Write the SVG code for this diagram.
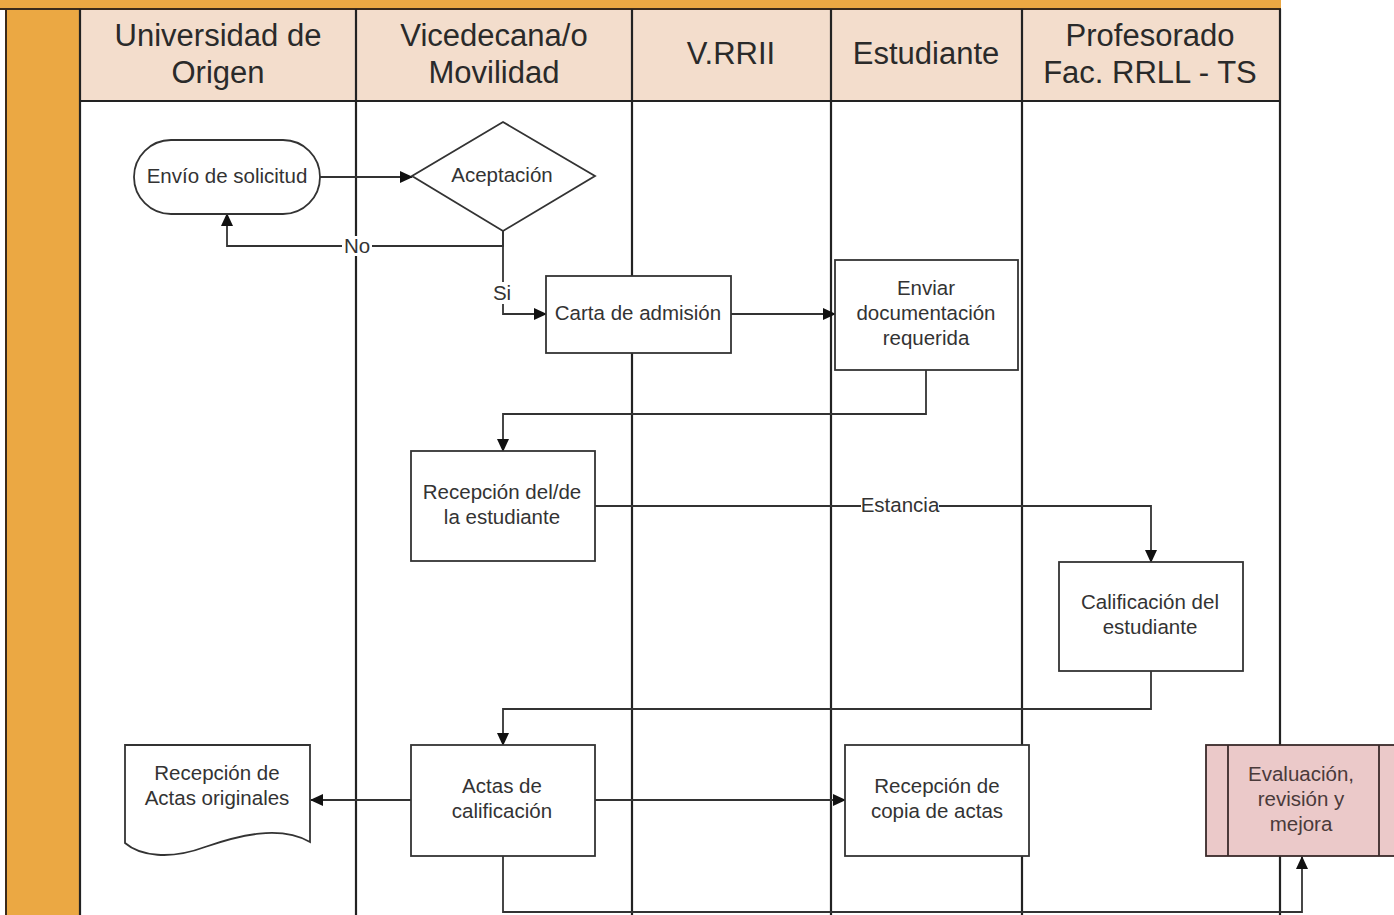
<svg xmlns="http://www.w3.org/2000/svg" width="1394" height="915" viewBox="0 0 1394 915">
<defs>
<marker id="ah" markerWidth="13" markerHeight="12" refX="12" refY="6" orient="auto" markerUnits="userSpaceOnUse">
<path d="M0,0 L13,6 L0,12 Z" fill="#111"/>
</marker>
<style>
.lane{stroke:#222;stroke-width:2.2;fill:none}
.hdr{font-family:"Liberation Sans",Arial,sans-serif;font-size:31px;fill:#2a2a2a;text-anchor:middle}
.box{fill:#fff;stroke:#333;stroke-width:1.8}
.txt{font-family:"Liberation Sans",Arial,sans-serif;font-size:20.5px;fill:#333;text-anchor:middle}
.con{stroke:#333;stroke-width:1.8;fill:none}
.lbl{font-family:"Liberation Sans",Arial,sans-serif;font-size:20.5px;fill:#333;text-anchor:middle}
</style>
</defs>
<rect width="1394" height="915" fill="#fff"/>
<g id="frame">
<rect x="0" y="0" width="1281" height="9" fill="#EBA843"/>
<rect x="6" y="9" width="74" height="906" fill="#EBA843"/>
<line x1="0" y1="9" x2="1281" y2="9" stroke="#3a2a1a" stroke-width="2"/>
<line x1="6" y1="9" x2="6" y2="915" stroke="#3a2a1a" stroke-width="2"/>
<rect x="80" y="10" width="1200" height="91" fill="#F3DDCC"/>
<line x1="80" y1="101" x2="1280" y2="101" class="lane"/>
<line x1="80" y1="9" x2="80" y2="915" class="lane"/>
<line x1="356" y1="9" x2="356" y2="915" class="lane"/>
<line x1="632" y1="9" x2="632" y2="915" class="lane"/>
<line x1="831" y1="9" x2="831" y2="915" class="lane"/>
<line x1="1022" y1="9" x2="1022" y2="915" class="lane"/>
<line x1="1280" y1="9" x2="1280" y2="915" class="lane"/>
</g>
<g id="headers">
<text class="hdr" x="218" y="46">Universidad de</text>
<text class="hdr" x="218" y="83">Origen</text>
<text class="hdr" x="494" y="46">Vicedecana/o</text>
<text class="hdr" x="494" y="83">Movilidad</text>
<text class="hdr" x="731" y="64">V.RRII</text>
<text class="hdr" x="926" y="64">Estudiante</text>
<text class="hdr" x="1150" y="46">Profesorado</text>
<text class="hdr" x="1150" y="83">Fac. RRLL - TS</text>
</g>
<g id="connectors">
<line class="con" x1="320" y1="177" x2="412" y2="177" marker-end="url(#ah)"/>
<polyline class="con" points="503,231 503,246 227,246 227,214" marker-end="url(#ah)"/>
<polyline class="con" points="503,231 503,314 546,314" marker-end="url(#ah)"/>
<line class="con" x1="731" y1="314" x2="835" y2="314" marker-end="url(#ah)"/>
<polyline class="con" points="926,370 926,414 503,414 503,451" marker-end="url(#ah)"/>
<polyline class="con" points="595,506 1151,506 1151,562" marker-end="url(#ah)"/>
<polyline class="con" points="1151,671 1151,709 503,709 503,745" marker-end="url(#ah)"/>
<line class="con" x1="411" y1="800" x2="311" y2="800" marker-end="url(#ah)"/>
<line class="con" x1="595" y1="800" x2="845" y2="800" marker-end="url(#ah)"/>
<polyline class="con" points="503,856 503,912 1302,912 1302,857" marker-end="url(#ah)"/>
<rect x="342" y="236" width="30" height="20" fill="#fff"/>
<text class="lbl" x="357" y="253">No</text>
<rect x="492" y="282" width="22" height="22" fill="#fff"/>
<text class="lbl" x="502" y="300">Si</text>
<rect x="861" y="496" width="78" height="20" fill="#fff"/>
<text class="lbl" x="900" y="512">Estancia</text>
</g>
<g id="envio">
<rect class="box" x="134" y="140" width="186" height="74" rx="37"/>
<text class="txt" x="227" y="183">Envío de solicitud</text>
</g>
<g id="aceptacion">
<polygon class="box" points="503,122 595,176 503,231 412,176"/>
<text class="txt" x="502" y="182">Aceptación</text>
</g>
<g id="carta">
<rect class="box" x="546" y="276" width="185" height="77"/>
<text class="txt" x="638" y="320">Carta de admisión</text>
</g>
<g id="enviar">
<rect class="box" x="835" y="260" width="183" height="110"/>
<text class="txt" x="926" y="295">Enviar</text>
<text class="txt" x="926" y="320">documentación</text>
<text class="txt" x="926" y="345">requerida</text>
</g>
<g id="recepcion">
<rect class="box" x="411" y="451" width="184" height="110"/>
<text class="txt" x="502" y="499">Recepción del/de</text>
<text class="txt" x="502" y="524">la estudiante</text>
</g>
<g id="calificacion">
<rect class="box" x="1059" y="562" width="184" height="109"/>
<text class="txt" x="1150" y="609">Calificación del</text>
<text class="txt" x="1150" y="634">estudiante</text>
</g>
<g id="actas">
<rect class="box" x="411" y="745" width="184" height="111"/>
<text class="txt" x="502" y="793">Actas de</text>
<text class="txt" x="502" y="818">calificación</text>
</g>
<g id="originales">
<path class="box" d="M125,745 H310 V842 C280,825 240,835 205,847 C170,860 140,856 125,843 Z"/>
<text class="txt" x="217" y="780">Recepción de</text>
<text class="txt" x="217" y="805">Actas originales</text>
</g>
<g id="copia">
<rect class="box" x="845" y="745" width="184" height="111"/>
<text class="txt" x="937" y="793">Recepción de</text>
<text class="txt" x="937" y="818">copia de actas</text>
</g>
<g id="evaluacion">
<rect x="1206" y="745" width="200" height="111" fill="#EBC9C9" stroke="#3a2a2a" stroke-width="1.8"/>
<line x1="1228" y1="745" x2="1228" y2="856" stroke="#3a2a2a" stroke-width="1.8"/>
<line x1="1379" y1="745" x2="1379" y2="856" stroke="#3a2a2a" stroke-width="1.8"/>
<text class="txt" x="1301" y="781" style="fill:#4a3a3a">Evaluación,</text>
<text class="txt" x="1301" y="806" style="fill:#4a3a3a">revisión y</text>
<text class="txt" x="1301" y="831" style="fill:#4a3a3a">mejora</text>
</g>
</svg>
